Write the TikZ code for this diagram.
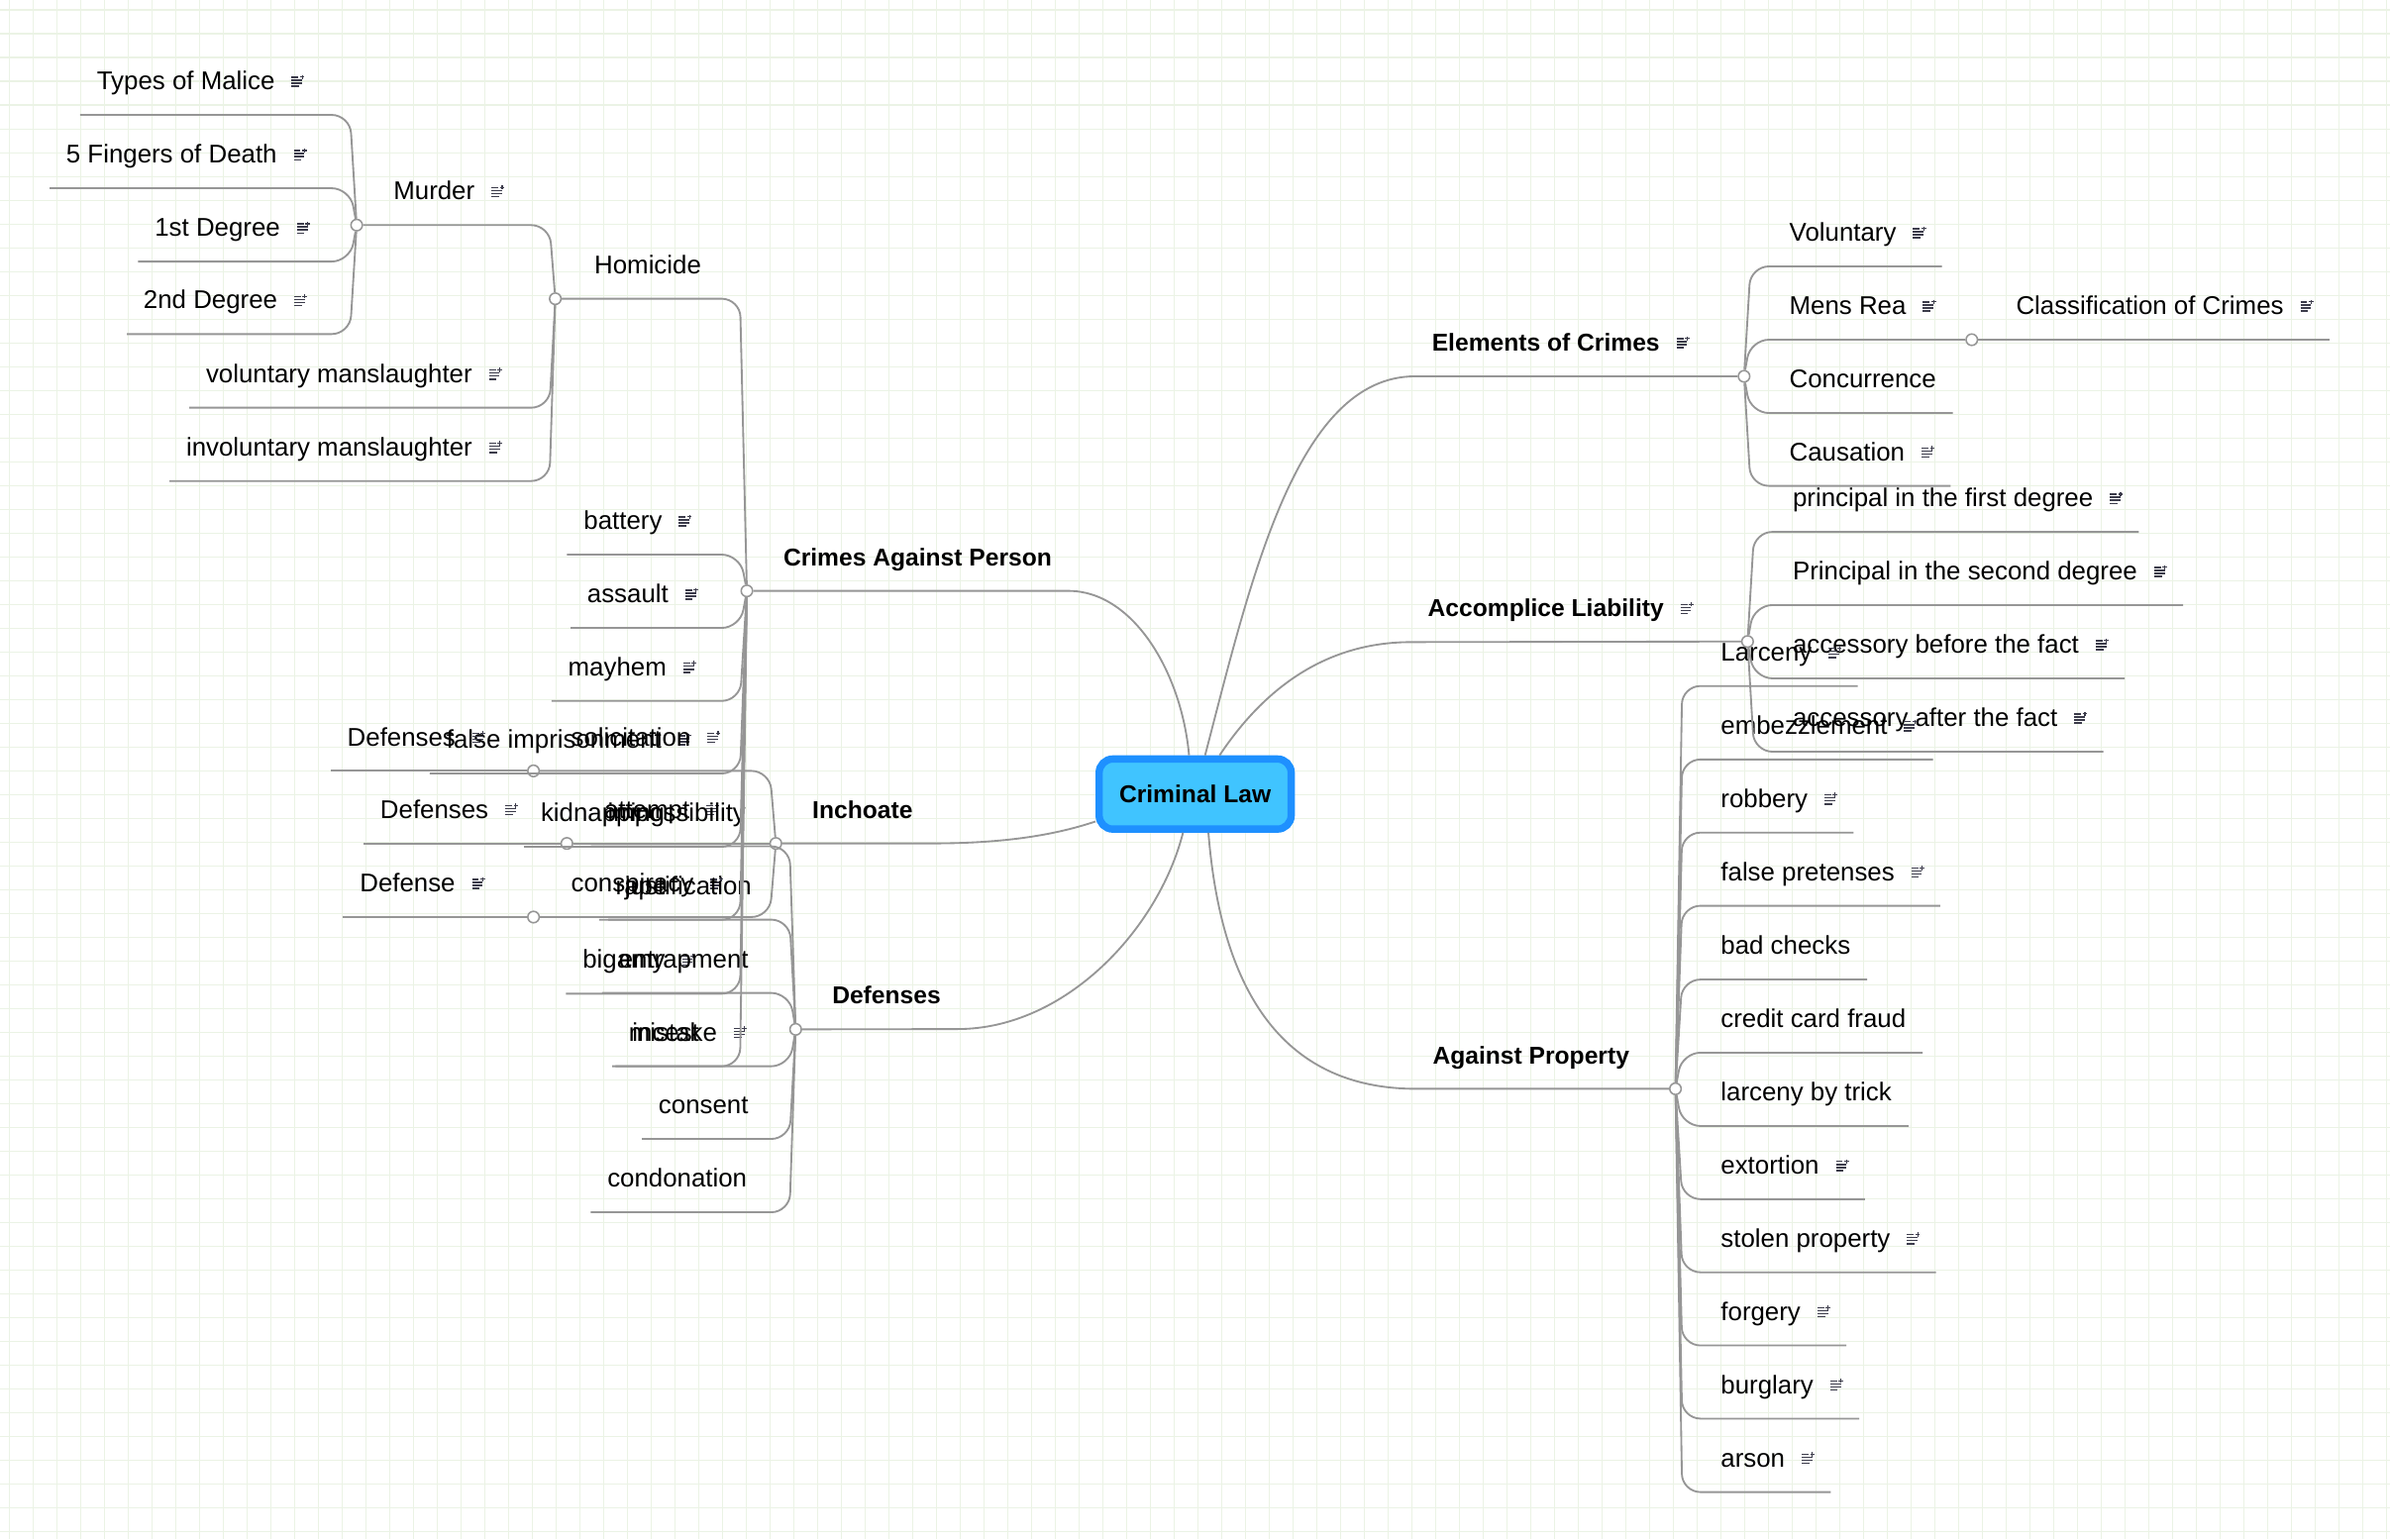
\documentclass[tikz,border=0pt]{standalone}
\usepackage{fontspec}
\setmainfont{Liberation Sans}

\definecolor{gridc}{RGB}{235,243,229}
\definecolor{linec}{RGB}{150,150,150}
\definecolor{rootfill}{RGB}{64,196,255}
\definecolor{rootline}{RGB}{30,144,255}
\definecolor{iconc}{RGB}{60,60,75}

\newcommand{\noteic}{\hspace{11pt}{\color{iconc}%
    \rlap{\rule[1.8pt]{5pt}{0.9pt}}%
    \rlap{\rule[3.8pt]{7pt}{0.9pt}}%
    \rlap{\rule[5.8pt]{7pt}{0.9pt}}%
    \rlap{\rule[7.8pt]{4.5pt}{0.9pt}}%
    \rlap{\hspace{5.5pt}\rule[7.9pt]{3pt}{0.8pt}}%
    \hspace{6.6pt}\rule[6.9pt]{0.8pt}{2.8pt}\hspace{0.6pt}}}

\begin{document}
\begin{tikzpicture}
    [
        x=1pt, y=-1pt,
        gridline/.style={draw=gridc, line width=0.7pt},
        branch/.style={draw=linec, line width=1.2pt, rounded corners=12pt},
        mainbranch/.style={draw=linec, line width=1.2pt},
        knot/.style={circle, draw=linec, fill=white, line width=1pt, inner sep=0pt, minimum size=7.5pt},
        topic/.style={anchor=south west, inner xsep=11pt, inner ysep=12.5pt, outer sep=0pt,
            text height=12pt, text depth=4pt, font=\fontsize{16.8}{20}\selectfont},
        maintopic/.style={topic, font=\bfseries\fontsize{16}{19}\selectfont},
        rootbox/.style={rounded corners=9pt, fill=rootfill, draw=rootline, line width=4.8pt,
            minimum width=126pt, minimum height=46pt, font=\bfseries\fontsize{16}{19}\selectfont}
    ]
    \useasboundingbox (0,0) rectangle (1568,1010);
    \fill[white] (0,0) rectangle (1568,1010);
    \foreach \i in {0,...,100}
        \draw[gridline] (6+\i*15.6,0) -- (6+\i*15.6,1010);
    \foreach \j in {0,...,64}
        \draw[gridline] (0,6.5+\j*15.6) -- (1568,6.5+\j*15.6);

    \node[rootbox] (root) at (784.1,521) {Criminal Law};

    % left: crimes against person
    \node[maintopic] (cap) at (503,387.7) {Crimes Against Person};
    \node[knot] (cap-c) at (490,387.7) {};
    \coordinate (cap-t) at (485.5,387.7);
    \node[topic] (homicide) at (379,196) {Homicide};
    \node[knot] (hom-c) at (364.3,196) {};
    \coordinate (hom-t) at (360.5,196);
    \node[topic] (murder) at (247.2,147.7) {Murder\noteic};
    \node[knot] (murder-c) at (234,147.7) {};
    \coordinate (murder-t) at (229.6,147.7);
    \node[topic] (malice) at (52.6,75.4) {Types of Malice\noteic};
    \node[topic] (fingers) at (32.5,123.5) {5 Fingers of Death\noteic};
    \node[topic] (deg1) at (90.6,171.6) {1st Degree\noteic};
    \node[topic] (deg2) at (83.2,219.2) {2nd Degree\noteic};
    \node[topic] (volman) at (124.2,267.5) {voluntary manslaughter\noteic};
    \node[topic] (involman) at (111.2,315.6) {involuntary manslaughter\noteic};
    \node[topic] (battery) at (372,363.9) {battery\noteic};
    \node[topic] (assault) at (374.3,412) {assault\noteic};
    \node[topic] (mayhem) at (361.8,459.9) {mayhem\noteic};
    \node[topic] (falseimp) at (282,507.5) {false imprisonment\noteic};
    \node[topic] (kidnap) at (343.8,555.6) {kidnapping};
    \node[topic] (rape) at (393,603.5) {rape};
    \node[topic] (bigamy) at (371.3,652) {bigamy\noteic};
    \node[topic] (incest) at (403.8,699.6) {incest};

    % left: inchoate
    \node[maintopic] (inch) at (522,553.4) {Inchoate};
    \node[knot] (inch-c) at (509,553.4) {};
    \coordinate (inch-t) at (505,553.4);
    \node[topic] (solic) at (363.7,505.8) {solicitation\noteic};
    \node[knot] (sol-c) at (350,505.8) {};
    \node[topic] (sdef) at (216.9,505.8) {Defenses\noteic};
    \node[topic] (attempt) at (385.4,553.4) {attempt\noteic};
    \node[knot] (att-c) at (371.9,553.4) {};
    \node[topic] (adef) at (238.5,553.4) {Defenses\noteic};
    \node[topic] (consp) at (363.7,601.7) {conspiracy\noteic};
    \node[knot] (con-c) at (350,601.7) {};
    \node[topic] (cdef) at (225.1,601.7) {Defense\noteic};

    % left: defenses
    \node[maintopic] (defs) at (535,675.2) {Defenses};
    \node[knot] (def-c) at (522,675.4) {};
    \coordinate (def-t) at (518,675.4);
    \node[topic] (imposs) at (387.7,555.3) {impossibility};
    \node[topic] (justif) at (399,603.4) {justification};
    \node[topic] (entrap) at (395,651.5) {entrapment};
    \node[topic] (mistake) at (401.6,699.6) {mistake\noteic};
    \node[topic] (consent) at (421.1,747.3) {consent};
    \node[topic] (condon) at (387.5,795.4) {condonation};

    % right: elements
    \node[maintopic] (elem) at (928.5,246.9) {Elements of Crimes\noteic};
    \node[knot] (elem-c) at (1144.2,246.9) {};
    \coordinate (elem-t) at (1148.5,246.9);
    \node[topic] (vol) at (1163,174.8) {Voluntary\noteic};
    \node[topic] (mens) at (1163,222.9) {Mens Rea\noteic};
    \node[knot] (mens-c) at (1293.6,222.9) {};
    \node[topic] (classif) at (1311.7,222.9) {Classification of Crimes\noteic};
    \node[topic] (concur) at (1163,271) {Concurrence};
    \node[topic] (causa) at (1163,318.8) {Causation\noteic};

    % right: accomplice
    \node[maintopic] (acc) at (925.8,421.3) {Accomplice Liability\noteic};
    \node[knot] (acc-c) at (1146.5,420.9) {};
    \coordinate (acc-t) at (1150.8,420.9);
    \node[topic] (pfirst) at (1165.2,349) {principal in the first degree\noteic};
    \node[topic] (psecond) at (1165.2,397) {Principal in the second degree\noteic};
    \node[topic] (abefore) at (1165.2,445.1) {accessory before the fact\noteic};
    \node[topic] (aafter) at (1165.2,493.2) {accessory after the fact\noteic};

    % right: property
    \node[maintopic] (prop) at (929,714.4) {Against Property};
    \node[knot] (prop-c) at (1099.2,714.4) {};
    \coordinate (prop-t) at (1103.6,714.4);
    \node[topic] (larceny) at (1118,450.1) {Larceny\noteic};
    \node[topic] (embez) at (1118,498.3) {embezzlement\noteic};
    \node[topic] (robbery) at (1118,546.3) {robbery\noteic};
    \node[topic] (falsep) at (1118,594.3) {false pretenses\noteic};
    \node[topic] (badch) at (1118,642.7) {bad checks};
    \node[topic] (ccfraud) at (1118,690.7) {credit card fraud};
    \node[topic] (lbtrick) at (1118,738.8) {larceny by trick};
    \node[topic] (extort) at (1118,786.8) {extortion\noteic};
    \node[topic] (stolen) at (1118,834.8) {stolen property\noteic};
    \node[topic] (forgery) at (1118,882.8) {forgery\noteic};
    \node[topic] (burglary) at (1118,930.8) {burglary\noteic};
    \node[topic] (arson) at (1118,979) {arson\noteic};

    % main branches
    \draw[mainbranch] ([xshift=-4pt]root.north) .. controls +(-5,-55) and +(42,0) .. (cap.south east) -- (cap-c);
    \draw[mainbranch] ([yshift=-18pt]root.west) .. controls +(-30,10) and +(45,0) .. (inch.south east) -- (inch-c);
    \draw[mainbranch] ([xshift=-8pt]root.south) .. controls +(-16,63) and +(71,0) .. (defs.south east) -- (def-c);
    \draw[mainbranch] ([xshift=6.5pt]root.north) .. controls +(30,-115) and +(-78,0) .. (elem.south west) -- (elem-c);
    \draw[mainbranch] ([xshift=16pt]root.north) .. controls +(30,-45) and +(-55,0) .. (acc.south west) -- (acc-c);
    \draw[mainbranch] ([xshift=8.7pt]root.south) .. controls +(8,100) and +(-90,0) .. (prop.south west) -- (prop-c);

    \foreach \c in {malice,fingers,deg1,deg2}
        \draw[branch] (\c.south west) -- (\c.south west -| murder-t) -- (murder-c);
    \foreach \c in {volman,involman}
        \draw[branch] (\c.south west) -- (\c.south west -| hom-t) -- (hom-c);
    \draw[branch] (murder-c) -- (murder-c -| hom-t) -- (hom-c);
    \draw[branch] (hom-c) -- (hom-c -| cap-t) -- (cap-c);
    \foreach \c in {battery,assault,mayhem,falseimp,kidnap,rape,bigamy,incest}
        \draw[branch] (\c.south west) -- (\c.south west -| cap-t) -- (cap-c);
    \foreach \c/\k in {sdef/sol-c,adef/att-c,cdef/con-c}
        \draw[branch] (\c.south west) -- (\k);
    \foreach \k in {sol-c,att-c,con-c}
        \draw[branch] (\k) -- (\k -| inch-t) -- (inch-c);
    \foreach \c in {imposs,justif,entrap,mistake,consent,condon}
        \draw[branch] (\c.south west) -- (\c.south west -| def-t) -- (def-c);
    \foreach \c in {vol,concur,causa}
        \draw[branch] (\c.south east) -- (\c.south east -| elem-t) -- (elem-c);
    \draw[branch] (mens-c) -- (mens-c -| elem-t) -- (elem-c);
    \draw[branch] (mens-c) -- (classif.south east);
    \foreach \c in {pfirst,psecond,abefore,aafter}
        \draw[branch] (\c.south east) -- (\c.south east -| acc-t) -- (acc-c);
    \foreach \c in {larceny,embez,robbery,falsep,badch,ccfraud,lbtrick,extort,stolen,forgery,burglary,arson}
        \draw[branch] (\c.south east) -- (\c.south east -| prop-t) -- (prop-c);
\end{tikzpicture}
\end{document}
